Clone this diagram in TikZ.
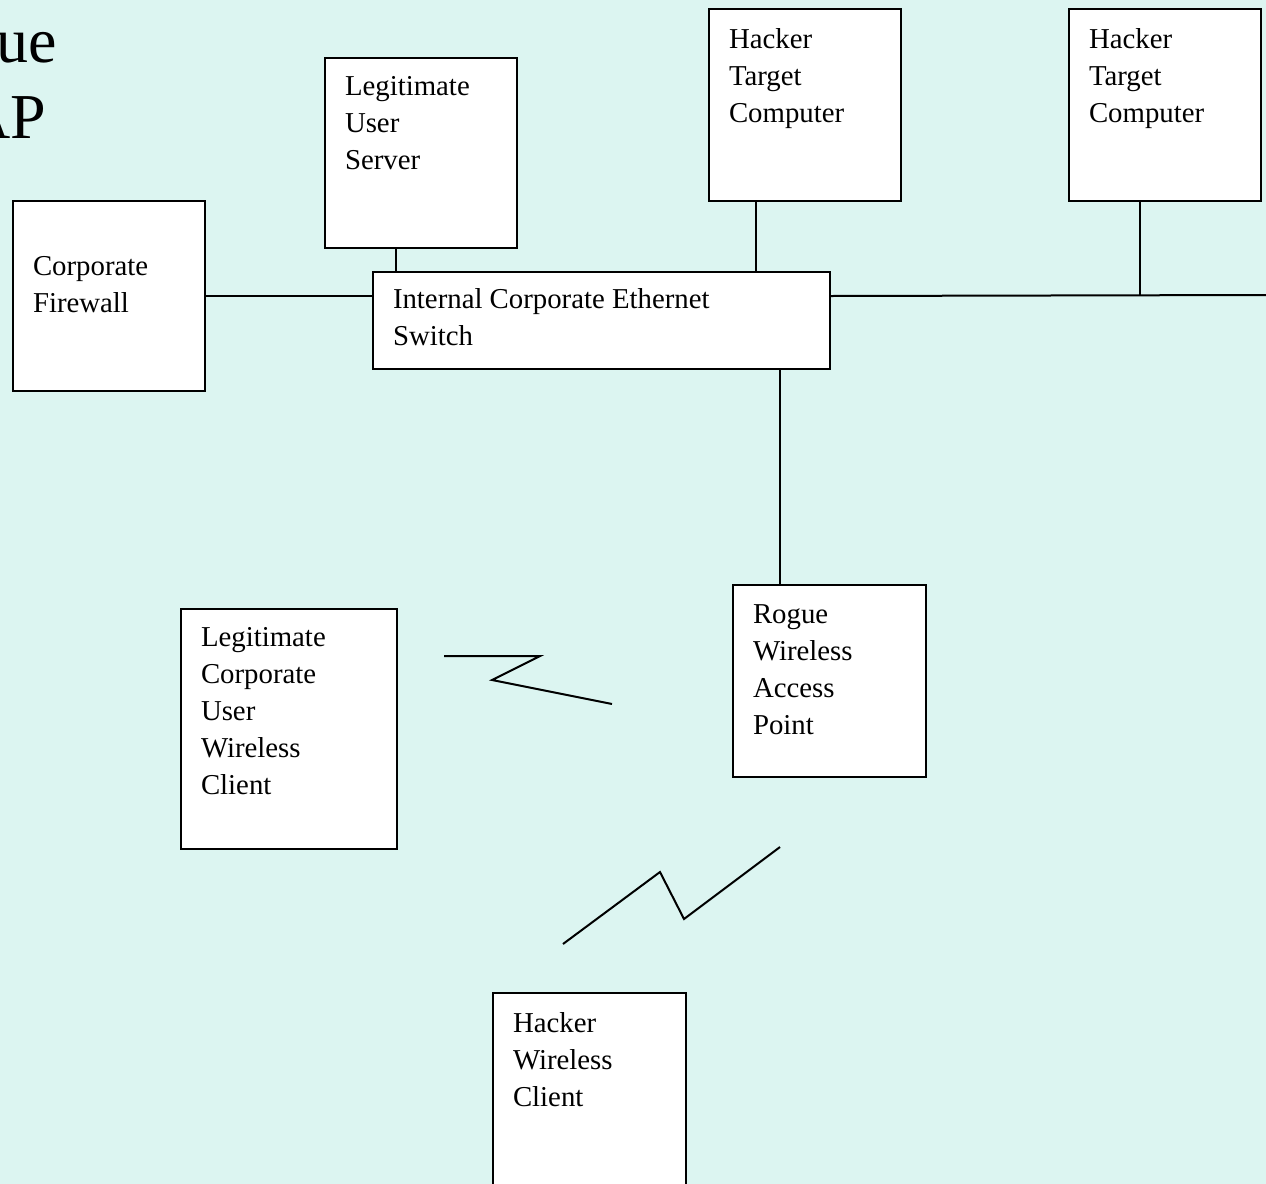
\documentclass[tikz,border=0pt]{standalone}
\usepackage{fontspec}
\setmainfont{Liberation Serif}
\definecolor{bgcyan}{RGB}{220,245,241}
\newdimen\px \px=0.5pt
% width, height, top gap (all in px), lines
\newcommand{\devtext}[4]{\parbox[t][#2\px][t]{#1\px}{\raggedright\leftskip=20\px\vspace*{#3\px}#4}}

\begin{document}
\begin{tikzpicture}[x=0.5pt, y=-0.5pt, line width=1pt]
   \tikzset{device/.style={draw, fill=white, inner sep=0pt, anchor=north west,
                           font=\fontsize{14.4}{18.5}\selectfont}}
   \tikzset{title/.style={inner sep=0pt, anchor=base east, font=\fontsize{32}{38}\selectfont}}
   \useasboundingbox (0,0) rectangle (1266,1184);
   \fill[bgcyan] (0,0) rectangle (1266,1184);
   \node[title] (ttl1) at (58,62) {ue};
   \node[title] (ttl2) at (47,138) {AP};
   % wired side
   \node[device] (fw)   at (12,200)  {\devtext{192}{190}{55}{Corporate\\Firewall}};
   \node[device] (srv)  at (324,57)  {\devtext{192}{190}{18}{Legitimate\\User\\Server}};
   \node[device] (tgt1) at (708,8)   {\devtext{192}{192}{20}{Hacker\\Target\\Computer}};
   \node[device] (tgt2) at (1068,8)  {\devtext{192}{192}{20}{Hacker\\Target\\Computer}};
   \node[device] (sw)   at (372,271) {\devtext{457}{97}{17}{Internal Corporate Ethernet\\Switch}};
   \coordinate (edge) at (1266,295);
   \draw (fw.east) -- (fw.east -| sw.west);
   \draw (fw.east -| sw.east) -- (edge);
   \draw ([xshift=72\px]srv.south west) -- ([xshift=72\px]srv.south west |- sw.north);
   \draw ([xshift=48\px]tgt1.south west) -- ([xshift=48\px]tgt1.south west |- sw.north);
   \draw ([xshift=72\px]tgt2.south west) -- ([xshift=72\px]tgt2.south west |- edge);
   % wireless side
   \node[device] (ap)   at (732,584) {\devtext{193}{192}{20}{Rogue\\Wireless\\Access\\Point}};
   \node[device] (cli)  at (180,608) {\devtext{216}{240}{18}{Legitimate\\Corporate\\User\\Wireless\\Client}};
   \node[device] (hcl)  at (492,992) {\devtext{193}{196}{20}{Hacker\\Wireless\\Client}};
   \draw ([xshift=408\px]sw.south west) -- ([xshift=408\px]sw.south west |- ap.north);
   \draw (444,656) -- (540,656) -- (492,680) -- (612,704);
   \draw (563,944) -- (660,872) -- (684,919) -- (780,847);
\end{tikzpicture}
\end{document}
